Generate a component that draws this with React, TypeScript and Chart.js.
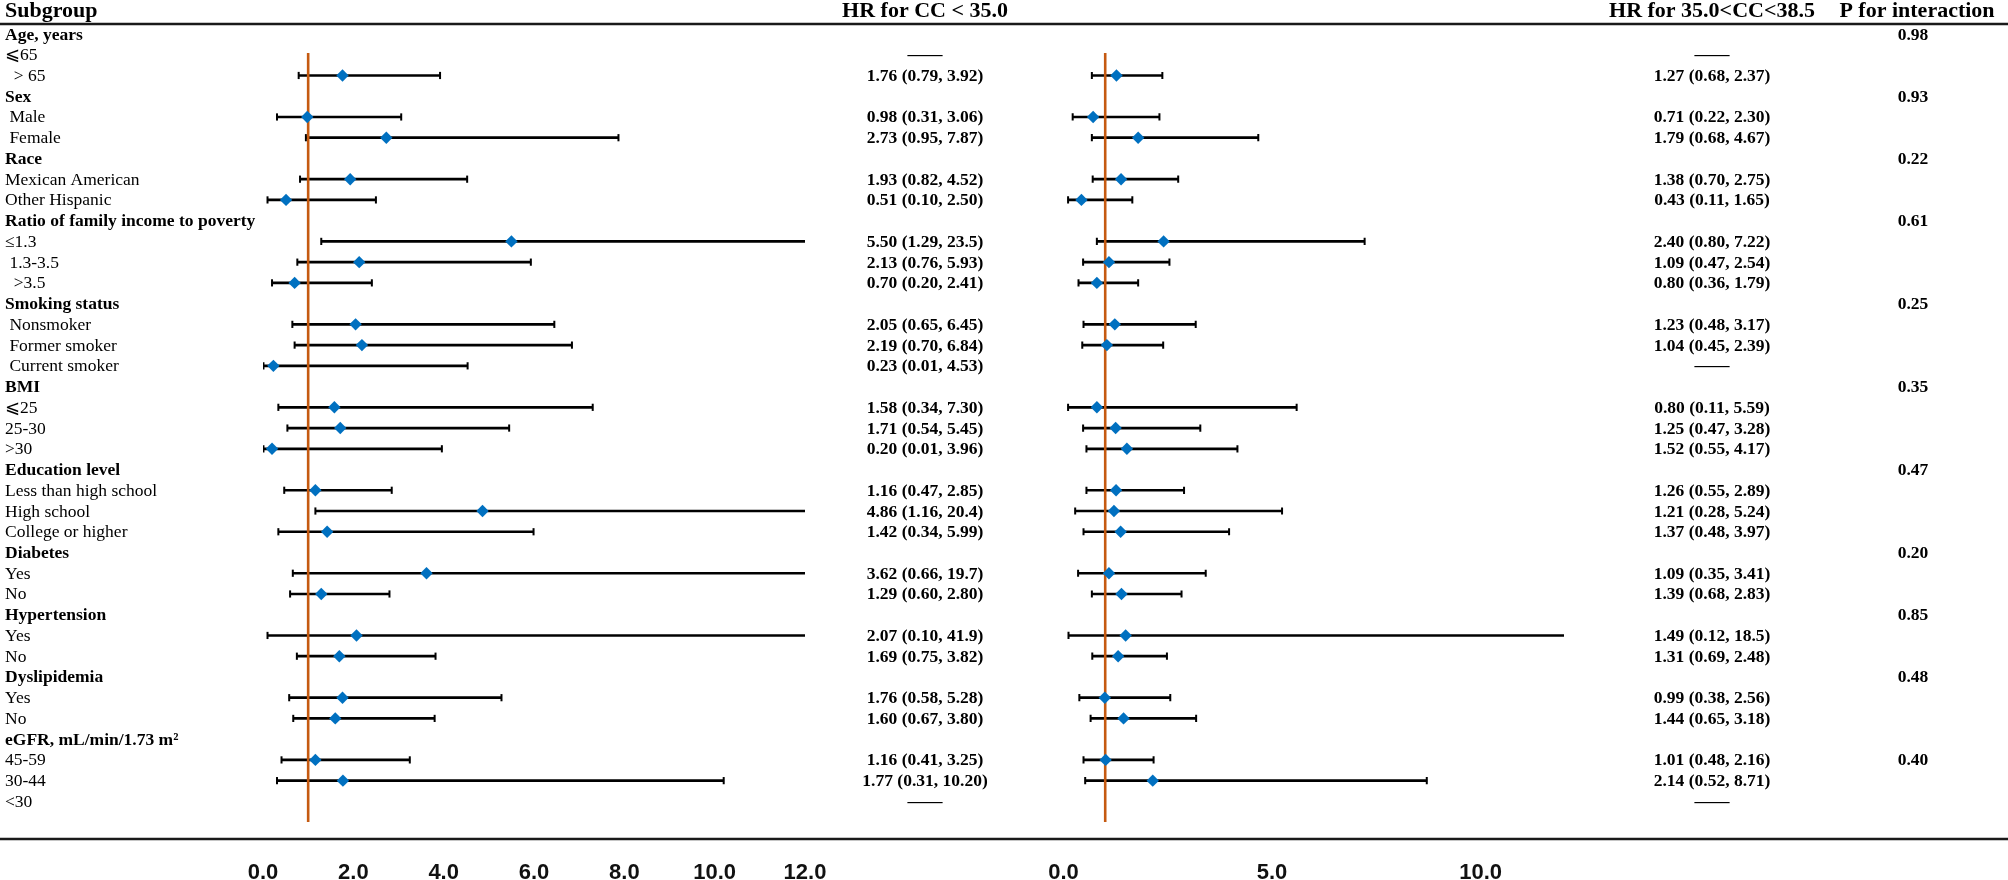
import React, { useEffect, useRef } from 'react';
import { Chart, registerables } from 'chart.js';

Chart.register(...registerables);

// ---------------- DATA ----------------
const N = null;

const rowLabels: string[] = [
  'Age, years', '⩽65', '  > 65',
  'Sex', ' Male', ' Female',
  'Race', 'Mexican American', 'Other Hispanic',
  'Ratio of family income to poverty', '≤1.3', ' 1.3-3.5', '  >3.5',
  'Smoking status', ' Nonsmoker', ' Former smoker', ' Current smoker',
  'BMI', '⩽25', '25-30', '>30',
  'Education level', 'Less than high school', 'High school', 'College or higher',
  'Diabetes', 'Yes', 'No',
  'Hypertension', 'Yes', 'No',
  'Dyslipidemia', 'Yes', 'No',
  'eGFR, mL/min/1.73 m²', '45-59', '30-44', '<30',
];

const isGroupRow: boolean[] = [
  true, false, false,
  true, false, false,
  true, false, false,
  true, false, false, false,
  true, false, false, false,
  true, false, false, false,
  true, false, false, false,
  true, false, false,
  true, false, false,
  true, false, false,
  true, false, false, false,
];

// HR for CC < 35.0
const hrCC35: (number | null)[] = [
  N, N, 1.76, N, 0.98, 2.73, N, 1.93, 0.51, N, 5.50, 2.13, 0.70, N, 2.05, 2.19, 0.23, N, 1.58, 1.71,
  0.20, N, 1.16, 4.86, 1.42, N, 3.62, 1.29, N, 2.07, 1.69, N, 1.76, 1.60, N, 1.16, 1.77, N,
];
const loCC35: (number | null)[] = [
  N, N, 0.79, N, 0.31, 0.95, N, 0.82, 0.10, N, 1.29, 0.76, 0.20, N, 0.65, 0.70, 0.01, N, 0.34, 0.54,
  0.01, N, 0.47, 1.16, 0.34, N, 0.66, 0.60, N, 0.10, 0.75, N, 0.58, 0.67, N, 0.41, 0.31, N,
];
const hiCC35: (number | null)[] = [
  N, N, 3.92, N, 3.06, 7.87, N, 4.52, 2.50, N, 23.5, 5.93, 2.41, N, 6.45, 6.84, 4.53, N, 7.30, 5.45,
  3.96, N, 2.85, 20.4, 5.99, N, 19.7, 2.80, N, 41.9, 3.82, N, 5.28, 3.80, N, 3.25, 10.20, N,
];

// HR for 35.0 < CC < 38.5
const hrCC385: (number | null)[] = [
  N, N, 1.27, N, 0.71, 1.79, N, 1.38, 0.43, N, 2.40, 1.09, 0.80, N, 1.23, 1.04, N, N, 0.80, 1.25,
  1.52, N, 1.26, 1.21, 1.37, N, 1.09, 1.39, N, 1.49, 1.31, N, 0.99, 1.44, N, 1.01, 2.14, N,
];
const loCC385: (number | null)[] = [
  N, N, 0.68, N, 0.22, 0.68, N, 0.70, 0.11, N, 0.80, 0.47, 0.36, N, 0.48, 0.45, N, N, 0.11, 0.47,
  0.55, N, 0.55, 0.28, 0.48, N, 0.35, 0.68, N, 0.12, 0.69, N, 0.38, 0.65, N, 0.48, 0.52, N,
];
const hiCC385: (number | null)[] = [
  N, N, 2.37, N, 2.30, 4.67, N, 2.75, 1.65, N, 7.22, 2.54, 1.79, N, 3.17, 2.39, N, N, 5.59, 3.28,
  4.17, N, 2.89, 5.24, 3.97, N, 3.41, 2.83, N, 18.5, 2.48, N, 2.56, 3.18, N, 2.16, 8.71, N,
];

// P for interaction
const pInteraction: (number | null)[] = [
  0.98, N, N, 0.93, N, N, 0.22, N, N, 0.61, N, N, N, 0.25, N, N, N, 0.35, N, N,
  N, 0.47, N, N, N, 0.20, N, N, 0.85, N, N, 0.48, N, N, N, 0.40, N, N,
];

const ticksLeft = [0, 2, 4, 6, 8, 10, 12];
const ticksRight = [0, 5, 10];
const maxLeft = 12;
const maxRight = 12;
const refValue = 1;

// ---------------- LAYOUT / STYLE ----------------
const W = 2008;
const H = 880;
const ROW_Y0 = 34;
const ROW_H = 20.74;
const PLOT_TOP = 25;
const PLOT_BOTTOM = 839;
const AXIS_H = H - PLOT_BOTTOM;
const YMIN = -(ROW_Y0 - PLOT_TOP) / ROW_H;
const YMAX = (PLOT_BOTTOM - ROW_Y0) / ROW_H;
const REF_TOP = 0.92;
const REF_BOTTOM = 38.0;

const LEFT_X0 = 263;
const LEFT_XMAX = 805;
const RIGHT_X0 = 1063.5;
const RIGHT_XMAX = 1564;

const COL_LABEL_X = 5;
const COL_CI_LEFT = 925;
const COL_CI_RIGHT = 1712;
const COL_P = 1913;

const SERIF = '"Liberation Serif", "Times New Roman", serif';
const TICK_FAMILY = '"Liberation Sans Narrow", "Liberation Sans", Arial, sans-serif';
const BLUE = '#0070C0';
const ORANGE = '#C55A11';
const INK = '#000000';

const fmt = (v: number) => (v >= 11 ? v.toFixed(1) : v.toFixed(2));

function ciText(hr: (number | null)[], lo: (number | null)[], hi: (number | null)[], i: number): string {
  if (isGroupRow[i]) return '';
  const h = hr[i], l = lo[i], u = hi[i];
  if (h == null || l == null || u == null) return '——';
  return `${fmt(h)} (${fmt(l)}, ${fmt(u)})`;
}

const tablePlugin = {
  id: 'tableText',
  afterDraw(chart: any) {
    const ctx = chart.ctx as CanvasRenderingContext2D;
    const y = chart.scales.y;
    ctx.save();
    ctx.fillStyle = INK;

    // header
    ctx.font = `bold 22px ${SERIF}`;
    ctx.textBaseline = 'alphabetic';
    ctx.textAlign = 'left';
    ctx.fillText('Subgroup', COL_LABEL_X, 17);
    ctx.textAlign = 'center';
    ctx.fillText('HR for CC < 35.0', COL_CI_LEFT, 17);
    ctx.fillText('HR for 35.0<CC<38.5', COL_CI_RIGHT, 17);
    ctx.fillText('P for interaction', 1917, 17);

    // rules
    ctx.strokeStyle = '#1a1a1a';
    ctx.lineWidth = 2.5;
    ctx.beginPath();
    ctx.moveTo(0, PLOT_TOP - 1);
    ctx.lineTo(W, PLOT_TOP - 1);
    ctx.moveTo(0, chart.chartArea.bottom);
    ctx.lineTo(W, chart.chartArea.bottom);
    ctx.stroke();

    for (let i = 0; i < rowLabels.length; i++) {
      const py = y.getPixelForValue(i) + 5.5;
      ctx.textAlign = 'left';
      ctx.font = `${isGroupRow[i] ? 'bold ' : ''}17.5px ${SERIF}`;
      ctx.fillText(rowLabels[i], COL_LABEL_X, py);

      ctx.font = `bold 17.5px ${SERIF}`;
      ctx.textAlign = 'center';
      const a = ciText(hrCC35, loCC35, hiCC35, i);
      if (a) ctx.fillText(a, COL_CI_LEFT, py);
      const b = ciText(hrCC385, loCC385, hiCC385, i);
      if (b) ctx.fillText(b, COL_CI_RIGHT, py);
      const p = pInteraction[i];
      if (p != null) ctx.fillText(p.toFixed(2), COL_P, py);
    }
    ctx.restore();
  },
};

function makeConfig(
  hr: (number | null)[],
  lo: (number | null)[],
  hi: (number | null)[],
  xmax: number,
  tickVals: number[],
  x0: number,
  x1: number,
  withTable: boolean,
): any {
  const bars: any[] = [];
  const caps: any[] = [];
  const points: any[] = [];
  hr.forEach((h, i) => {
    const l = lo[i];
    const u = hi[i];
    if (h == null || l == null || u == null) return;
    bars.push({ x: [l, u], y: i });
    caps.push({ x: l, y: i });
    if (u <= xmax) caps.push({ x: u, y: i });
    points.push({ x: h, y: i });
  });

  return {
    type: 'scatter',
    data: {
      datasets: [
        {
          type: 'bar',
          indexAxis: 'y',
          data: bars,
          backgroundColor: INK,
          borderWidth: 0,
          barThickness: 2,
          grouped: false,
          order: 3,
        },
        {
          type: 'scatter',
          data: caps,
          pointStyle: 'line',
          rotation: 90,
          pointRadius: 3.6,
          borderColor: INK,
          borderWidth: 2,
          showLine: false,
          order: 2,
        },
        {
          type: 'line',
          data: [
            { x: refValue, y: REF_TOP },
            { x: refValue, y: REF_BOTTOM },
          ],
          borderColor: ORANGE,
          borderWidth: 2.6,
          pointRadius: 0,
          fill: false,
          order: 1,
        },
        {
          type: 'scatter',
          data: points,
          pointStyle: 'rectRot',
          pointRadius: 6.2,
          backgroundColor: BLUE,
          borderColor: BLUE,
          borderWidth: 0,
          order: 0,
        },
      ],
    },
    options: {
      animation: false,
      responsive: false,
      events: [],
      layout: { padding: { left: x0, right: W - x1, top: PLOT_TOP, bottom: 0 } },
      plugins: { legend: { display: false }, tooltip: { enabled: false }, title: { display: false } },
      scales: {
        x: {
          type: 'linear',
          min: 0,
          max: xmax,
          offset: false,
          grid: { display: false, drawTicks: false },
          border: { display: false },
          ticks: {
            padding: 21,
            color: '#111',
            font: { family: TICK_FAMILY, size: 22, weight: 'bold' },
            callback: (v: any) => Number(v).toFixed(1),
          },
          afterBuildTicks: (s: any) => {
            s.ticks = tickVals.map((v) => ({ value: v }));
          },
          afterFit: (s: any) => {
            s.height = AXIS_H;
          },
        },
        y: {
          type: 'linear',
          reverse: true,
          min: YMIN,
          max: YMAX,
          offset: false,
          display: false,
        },
      },
    },
    plugins: withTable ? [tablePlugin] : [],
  };
}

export default function App() {
  const leftRef = useRef<HTMLCanvasElement>(null);
  const rightRef = useRef<HTMLCanvasElement>(null);

  useEffect(() => {
    const c1 = new Chart(
      leftRef.current as HTMLCanvasElement,
      makeConfig(hrCC35, loCC35, hiCC35, maxLeft, ticksLeft, LEFT_X0, LEFT_XMAX, true),
    );
    const c2 = new Chart(
      rightRef.current as HTMLCanvasElement,
      makeConfig(hrCC385, loCC385, hiCC385, maxRight, ticksRight, RIGHT_X0, RIGHT_XMAX, false),
    );
    return () => {
      c1.destroy();
      c2.destroy();
    };
  }, []);

  const cstyle: React.CSSProperties = { position: 'absolute', left: 0, top: 0, width: W, height: H };
  return (
    <div style={{ position: 'absolute', left: 0, top: 0, width: W, height: H, background: '#fff', overflow: 'hidden' }}>
      <canvas ref={leftRef} width={W} height={H} style={cstyle} />
      <canvas ref={rightRef} width={W} height={H} style={cstyle} />
    </div>
  );
}
